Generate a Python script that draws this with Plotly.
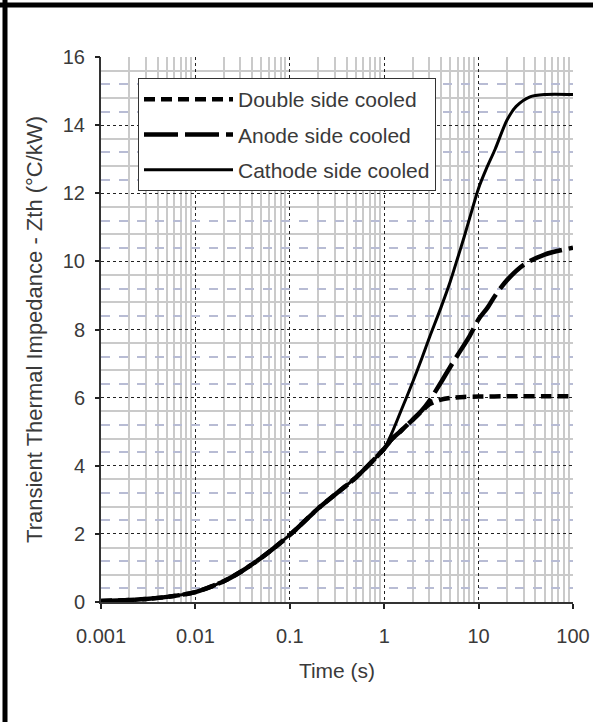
import numpy as np
import plotly.graph_objects as go

# ---- data ----
time_double = [0.001, 0.002, 0.003, 0.005, 0.01, 0.02, 0.03, 0.05, 0.1, 0.2, 0.3, 0.5, 0.7, 1,
               1.2, 1.5, 2, 2.5, 3, 4, 5, 7, 10, 20, 50, 100]
zth_double = [0.03, 0.06, 0.09, 0.15, 0.29, 0.61, 0.88, 1.3, 1.97, 2.75, 3.15, 3.65, 4.05, 4.5,
              4.78, 5.02, 5.35, 5.6, 5.8, 5.94, 5.99, 6.02, 6.03, 6.04, 6.04, 6.04]

time_anode = [0.001, 0.002, 0.003, 0.005, 0.01, 0.02, 0.03, 0.05, 0.1, 0.2, 0.3, 0.5, 0.7, 1,
              1.2, 1.5, 2, 2.5, 3, 4, 5, 6, 8, 10, 12.5, 15, 20, 30, 50, 100]
zth_anode = [0.03, 0.06, 0.09, 0.15, 0.29, 0.61, 0.88, 1.3, 1.97, 2.75, 3.15, 3.65, 4.05, 4.5,
             4.78, 5.02, 5.35, 5.62, 5.9, 6.45, 6.9, 7.25, 7.8, 8.3, 8.65, 9.0, 9.45, 9.9, 10.2, 10.4]

time_cathode = [0.001, 0.002, 0.003, 0.005, 0.01, 0.02, 0.03, 0.05, 0.1, 0.2, 0.3, 0.5, 0.7, 1,
                1.2, 1.5, 2, 2.5, 3, 4, 5, 6, 7, 8, 10, 12, 15, 20, 25, 35, 50, 100]
zth_cathode = [0.03, 0.06, 0.09, 0.15, 0.29, 0.61, 0.88, 1.3, 1.97, 2.75, 3.15, 3.65, 4.05, 4.5,
               4.95, 5.6, 6.45, 7.15, 7.75, 8.65, 9.4, 10.1, 10.7, 11.25, 12.15, 12.7, 13.3, 14.15,
               14.55, 14.83, 14.9, 14.9]

series_names = ["Double side cooled", "Anode side cooled", "Cathode side cooled"]
x_tick_values = [0.001, 0.01, 0.1, 1, 10, 100]
x_tick_labels = ["0.001", "0.01", "0.1", "1", "10", "100"]
y_tick_values = [0, 2, 4, 6, 8, 10, 12, 14, 16]
y_tick_labels = ["0", "2", "4", "6", "8", "10", "12", "14", "16"]
x_title = "Time (s)"
y_title = "Transient Thermal Impedance - Zth (°C/kW)"

# ---- styling ----
FONT = "Liberation Sans, Arial, sans-serif"
TXT = "#3a3a3a"
W, H = 593, 722
ML, MR, MT, MB = 101, 20, 57, 120
PW, PH = W - ML - MR, H - MT - MB

x_minor = [k * 10.0 ** e for e in range(-3, 2) for k in range(2, 10)]
y_dashed = [2 * k + o for k in range(8) for o in (0.4, 1.2)]
y_solid = [2 * k + o for k in range(8) for o in (0.8, 1.6)]

fig = go.Figure()
fig.add_trace(go.Scatter(
    x=time_double, y=zth_double, name=series_names[0], mode="lines",
    legendgroup="a",
    line=dict(color="black", width=4.5, dash="11px,6px", shape="spline", smoothing=0.8)))
fig.add_trace(go.Scatter(
    x=time_anode, y=zth_anode, name=series_names[1], mode="lines",
    legendgroup="b",
    line=dict(color="black", width=4.5, dash="34px,7px", shape="spline", smoothing=0.8)))
fig.add_trace(go.Scatter(
    x=time_cathode, y=zth_cathode, name=series_names[2], mode="lines",
    legendgroup="c",
    line=dict(color="black", width=3, shape="spline", smoothing=0.8)))
# empty helper trace so the overlaid labelled y axis is drawn
fig.add_trace(go.Scatter(x=[], y=[], yaxis="y2", showlegend=False, hoverinfo="skip"))

fig.update_layout(
    width=W, height=H, autosize=False,
    margin=dict(l=ML, r=MR, t=MT, b=MB, pad=0, autoexpand=False),
    paper_bgcolor="white", plot_bgcolor="white",
    font=dict(family=FONT, size=20, color=TXT),
    showlegend=True,
    legend=dict(
        x=(138 - ML) / PW, y=(MT + PH - 78) / PH, xanchor="left", yanchor="top",
        bgcolor="white", bordercolor="#333", borderwidth=1,
        font=dict(family=FONT, size=21, color=TXT),
        tracegroupgap=5, itemwidth=89,
    ),
    xaxis=dict(
        type="log", range=[-3, 2], automargin=False,
        tickmode="array", tickvals=x_tick_values, ticktext=x_tick_labels,
        ticks="outside", ticklen=5, tickcolor="#222", tickwidth=1.5,
        ticklabelstandoff=10,
        showgrid=True, gridcolor="#222", griddash="dot", gridwidth=1.2,
        minor=dict(tickvals=x_minor, showgrid=True, gridcolor="#cacaca", gridwidth=2,
                   griddash="solid", ticks=""),
        showline=True, linecolor="#333", linewidth=1.5,
        zeroline=False,
        title=dict(text=x_title, standoff=18, font=dict(size=21, color=TXT)),
        tickfont=dict(size=20, color=TXT),
    ),
    yaxis=dict(
        range=[0, 16], automargin=False,
        tickmode="array", tickvals=y_dashed, showticklabels=False, ticks="",
        showgrid=True, gridcolor="#b8bcd4", griddash="dash", gridwidth=1.5,
        minor=dict(tickvals=y_solid, showgrid=True, gridcolor="#cacaca", gridwidth=2,
                   griddash="solid", ticks=""),
        showline=True, linecolor="#333", linewidth=1.5,
        zeroline=False,
    ),
    yaxis2=dict(
        overlaying="y", anchor="x", side="left", range=[0, 16], automargin=False,
        tickmode="array", tickvals=y_tick_values, ticktext=y_tick_labels,
        ticks="outside", ticklen=5, tickcolor="#222", tickwidth=1.5,
        ticklabelstandoff=6,
        showgrid=True, gridcolor="#222", griddash="dot", gridwidth=1.2,
        showline=False, zeroline=False,
        tickfont=dict(size=20, color=TXT),
        title=dict(text=y_title + "\u00a0" * 4, standoff=14,
                   font=dict(size=22, color=TXT)),
    ),
)

# outer frame (top and left edges of the picture)
fig.add_shape(type="line", xref="paper", yref="paper",
              x0=(0 - ML) / PW, x1=(W - ML) / PW,
              y0=(MT + PH - 5) / PH, y1=(MT + PH - 5) / PH,
              line=dict(color="black", width=5))
fig.add_shape(type="line", xref="paper", yref="paper",
              x0=(5 - ML) / PW, x1=(5 - ML) / PW,
              y0=(MT + PH - H) / PH, y1=(MT + PH) / PH,
              line=dict(color="black", width=5))

fig.write_html("out.html", config={"displayModeBar": False},
               post_script="document.body.style.margin='0';document.body.style.overflow='hidden';")
